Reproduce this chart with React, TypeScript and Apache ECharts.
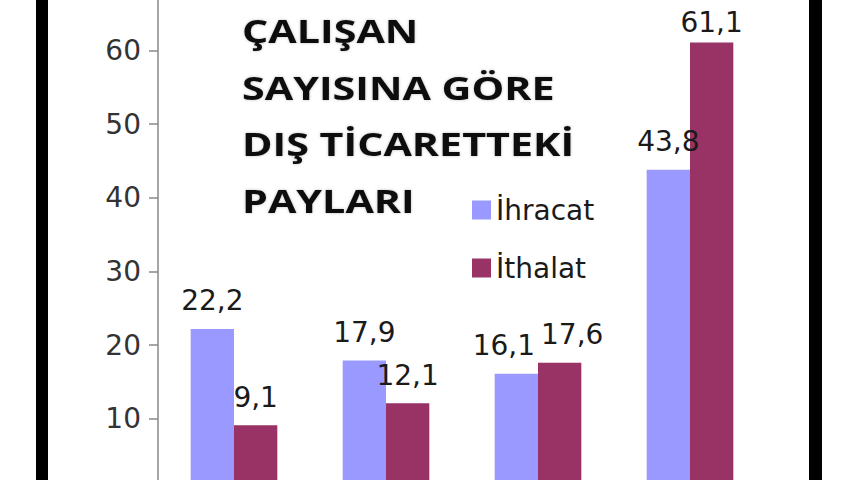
import React, { useEffect, useRef } from 'react';
import * as echarts from 'echarts';

// Kategoriler (x ekseni etiketleri görüntünün altında kaldığı için okunamıyor)
const categories = ['1-9', '10-49', '50-249', '250+'];
const ihracat = [22.2, 17.9, 16.1, 43.8];
const ithalat = [9.1, 12.1, 17.6, 61.1];
const seriesNames = ['İhracat', 'İthalat'];
const titleLines = ['ÇALIŞAN', 'SAYISINA GÖRE', 'DIŞ TİCARETTEKİ', 'PAYLARI'];

// grafik div'i görünür alanın 30px üstünden başlıyor
const OFFSET = 30;
const NUM_FONT = '"DejaVu Sans", Verdana, sans-serif';
const Y_MAX = 70;

const App: React.FC = () => {
  const chartRef = useRef<HTMLDivElement>(null);

  useEffect(() => {
    if (!chartRef.current) return;
    const chart = echarts.init(chartRef.current, undefined, { renderer: 'svg' });

    const labelStyle = {
      show: true,
      position: 'top' as const,
      distance: 17,
      fontFamily: NUM_FONT,
      fontSize: 28,
      lineHeight: 22,
      color: '#1a1a1a',
      formatter: (p: any) => String(p.value).replace('.', ',')
    };

    // aynı kategorideki iki etiket üst üste biniyorsa yanlara aç,
    // görünür alanın üstünden taşanı biraz aşağı al
    const pxPerUnit = () => chart.getHeight() > 0
      ? Math.abs(chart.convertToPixel({ yAxisIndex: 0 }, 0) - chart.convertToPixel({ yAxisIndex: 0 }, 1))
      : 0;
    const splitLabels = (params: any) => {
      const i = params.dataIndex;
      const lr = params.labelRect;
      const out: any = {};
      const minTop = OFFSET + 8;
      if (lr.y < minTop) out.dy = minTop - lr.y;
      const dy = Math.abs(ihracat[i] - ithalat[i]) * pxPerUnit();
      if (dy < lr.height + 6) {
        const overlap = lr.width - params.rect.width + 6;
        if (overlap > 0) out.dx = params.seriesIndex === 0 ? -overlap / 2 : overlap / 2;
      }
      return out;
    };

    chart.setOption({
      animation: false,
      backgroundColor: '#ffffff',
      grid: {
        left: 158,
        right: 94,
        top: -23 + OFFSET,
        bottom: 540 - (492.3 + OFFSET),
        containLabel: false,
        outerBoundsMode: 'none'
      },
      legend: {
        orient: 'vertical',
        left: 472,
        top: 195 + OFFSET,
        padding: 0,
        itemWidth: 19,
        itemHeight: 19,
        itemGap: 28,
        icon: 'rect',
        textStyle: {
          fontFamily: NUM_FONT,
          fontSize: 28,
          lineHeight: 30,
          color: '#1a1a1a'
        },
        data: seriesNames
      },
      xAxis: {
        type: 'category',
        data: categories,
        axisLine: { lineStyle: { color: '#888', width: 1.5 } },
        axisTick: { show: false },
        axisLabel: { show: false }
      },
      yAxis: {
        type: 'value',
        min: 0,
        max: Y_MAX,
        interval: 10,
        splitLine: { show: false },
        axisLine: { show: true, lineStyle: { color: '#888', width: 1.5 } },
        axisTick: { show: true, length: 9, lineStyle: { color: '#888', width: 1.5 } },
        axisLabel: {
          showMinLabel: false,
          showMaxLabel: false,
          margin: 17,
          fontFamily: NUM_FONT,
          fontSize: 28,
          color: '#333'
        }
      },
      graphic: [
        { type: 'rect', shape: { x: 36, y: 0, width: 12, height: 540 }, style: { fill: '#000' } },
        { type: 'rect', shape: { x: 809, y: 0, width: 13, height: 540 }, style: { fill: '#000' } },
        {
          type: 'text',
          x: 242,
          y: 2 + OFFSET,
          scaleX: 1.25,
          style: {
            text: titleLines.join('\n'),
            font: 'bold 33px "Open Sans", sans-serif',
            lineHeight: 56.5,
            fill: '#111',
            textShadowColor: 'rgba(0,0,0,0.25)',
            textShadowBlur: 3
          }
        }
      ],
      series: [
        {
          name: seriesNames[0],
          type: 'bar',
          data: ihracat,
          barGap: '0%',
          barCategoryGap: '43%',
          itemStyle: { color: '#9999FF' },
          label: labelStyle,
          labelLayout: splitLabels
        },
        {
          name: seriesNames[1],
          type: 'bar',
          data: ithalat,
          itemStyle: { color: '#993366' },
          label: labelStyle,
          labelLayout: splitLabels
        }
      ]
    });

    return () => {
      chart.dispose();
    };
  }, []);

  return (
    <div
      style={{
        position: 'absolute',
        left: 0,
        top: 0,
        width: 860,
        height: 480,
        overflow: 'hidden',
        background: '#fff'
      }}
    >
      <div
        ref={chartRef}
        style={{ position: 'absolute', left: 0, top: -OFFSET, width: 860, height: 540 }}
      ></div>
    </div>
  );
};

export default App;
